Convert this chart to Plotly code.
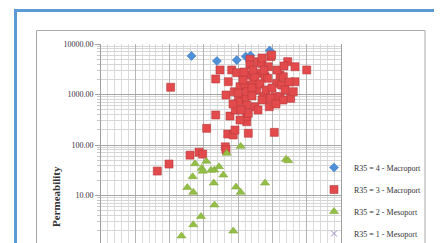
import plotly.graph_objects as go

# ---- data (porosity-like x, permeability y) ----
macro4_x = [13.2, 16.9, 19.8, 21.1, 21.8, 24.6]
macro4_y = [5800, 4600, 4800, 5650, 5900, 7400]

macro3_x = [10.16, 8.21, 9.92, 12.98, 14.29, 14.83, 15.41, 16.73, 16.73, 17.35,
            18.13, 18.23, 18.48, 18.23, 18.56, 18.81, 19.06, 19.29, 19.54, 19.79,
            19.59, 19.44, 20.27, 20.27, 21.48, 21.25, 21.25, 21.25, 21.0, 21.73,
            21.73, 21.63, 22.21, 22.46, 22.71, 22.79, 22.94, 23.44, 23.67, 23.92,
            24.4, 24.54, 24.31, 24.75, 24.89, 25.27, 25.37, 25.62, 26.1, 26.35,
            26.1, 26.59, 27.23, 27.66, 28.04, 28.29, 28.29, 30.0, 21.0, 22.46,
            24.65, 21.25, 20.02, 21.48, 20.71, 22.02, 23.19, 23.48, 19.98, 22.02,
            24.06, 24.94, 25.67, 26.83, 26.69, 20.42, 22.9, 20.85, 23.77, 22.17,
            19.25, 20.27, 27.42, 26.54, 25.52, 23.48]
macro3_y = [1390, 30.5, 42, 63, 72, 66, 214, 393, 2030, 3060,
            92, 80, 165, 977, 1790, 375, 3060, 158, 198, 2700,
            493, 1136, 778, 1427, 171, 289, 363, 620, 904, 4980,
            3840, 2430, 1940, 573, 1227, 2630, 4470, 4150, 904, 2250,
            3550, 573, 2094, 5610, 6055, 178, 904, 1667, 2430, 1542,
            904, 2250, 4470, 841, 1136, 3550, 1790, 3060, 1542, 2222,
            841, 1136, 720, 425, 1936, 1345, 1614, 778, 1072, 933,
            1227, 1345, 3057, 1227, 3664, 493, 493, 2790, 3057, 3057,
            649, 313, 1770, 778, 649, 5284]

meso2_x = [20.37, 18.33, 26.98, 27.31, 13.71, 15.36, 14.69, 14.83, 16.04, 16.52,
           17.21, 17.84, 13.37, 16.45, 12.59, 13.46, 19.69, 20.37, 23.92, 16.55,
           14.58, 13.46, 11.74, 19.29]
meso2_y = [94, 68.5, 52, 49, 42.6, 47.6, 34.6, 30.3, 31.6, 32,
           37.2, 25.5, 23.6, 17.7, 14.4, 11.6, 14.7, 11.6, 17.7, 6.5,
           3.84, 2.64, 1.58, 1.98]

meso1_x = [12.0, 15.5]
meso1_y = [0.6, 0.45]

series_names = ["R35 = 4 - Macroport", "R35 = 3 - Macroport",
                "R35 = 2 - Mesoport", "R35 = 1 - Mesoport"]
y_tickvals = [1, 10, 100, 1000, 10000]
y_ticktext = ["1.00", "10.00", "100.00", "1000.00", "10000.00"]

FONT = "Liberation Serif"

fig = go.Figure()
fig.add_trace(go.Scatter(x=macro4_x, y=macro4_y, mode="markers", name=series_names[0],
                         legendgroup="a",
                         marker=dict(symbol="diamond", size=7, color="#4F8FD8",
                                     line=dict(color="#3F78BC", width=0.5))))
fig.add_trace(go.Scatter(x=macro3_x, y=macro3_y, mode="markers", name=series_names[1],
                         legendgroup="b",
                         marker=dict(symbol="square", size=8, color="#E34A4C",
                                     line=dict(color="#B93A3C", width=0.6))))
fig.add_trace(go.Scatter(x=meso2_x, y=meso2_y, mode="markers", name=series_names[2],
                         legendgroup="c",
                         marker=dict(symbol="triangle-up", size=8, color="#93BF45",
                                     line=dict(color="#7AA334", width=0.5))))
fig.add_trace(go.Scatter(x=meso1_x, y=meso1_y, mode="markers", name=series_names[3],
                         legendgroup="d",
                         marker=dict(symbol="x-thin", size=6, color="#9D8AC7",
                                     line=dict(color="#9D8AC7", width=1))))

# page body has an 8px margin; figure is laid out in screen pixels minus that offset
OFF = 8
W, H = 442 - OFF, 243 - OFF
L, T, B = 101 - OFF, 44 - OFF, 0
R = W - (341 - OFF)
pw, ph = W - L - R, H - T - B


def px(xs):
    return (xs - OFF - L) / pw


def py(ys):
    return (H - B - (ys - OFF)) / ph


fig.update_layout(
    width=W, height=H,
    margin=dict(l=L, r=R, t=T, b=B, pad=0, autoexpand=False),
    paper_bgcolor="white", plot_bgcolor="white",
    font=dict(family=FONT, size=8, color="#333333"),
    showlegend=True,
    legend=dict(x=px(314), y=py(153), xanchor="left", yanchor="top",
                bgcolor="rgba(0,0,0,0)", tracegroupgap=3, itemwidth=30,
                font=dict(family=FONT, size=8, color="#333333")),
    xaxis=dict(range=[0, 35], dtick=5, showticklabels=False, ticks="",
               showgrid=True, gridcolor="#B4B4B4", gridwidth=1, zeroline=False,
               minor=dict(dtick=1, showgrid=True, gridcolor="#DADADA", gridwidth=1)),
    yaxis=dict(type="log", range=[0.06, 4], tickvals=y_tickvals, ticktext=y_ticktext,
               ticks="outside", ticklen=5, tickcolor="#A0A0A0",
               showline=True, linecolor="#A0A0A0", linewidth=1, mirror=True,
               showgrid=True, gridcolor="#A6A6A6", gridwidth=1, zeroline=False,
               tickfont=dict(family=FONT, size=8, color="#333333"),
               minor=dict(dtick="D1", showgrid=True, gridcolor="#D6D6D6", gridwidth=1,
                          ticks="outside", ticklen=3, tickcolor="#C8C8C8")),
    shapes=[
        dict(type="rect", xref="paper", yref="paper",
             x0=px(36.5), x1=px(425), y0=py(260), y1=py(30.5),
             line=dict(color="#A9A9A9", width=1), fillcolor="rgba(0,0,0,0)", layer="below"),
        dict(type="rect", xref="paper", yref="paper",
             x0=px(15.5), x1=px(470), y0=py(270), y1=py(10.5),
             line=dict(color="#5B9BD5", width=3), fillcolor="rgba(0,0,0,0)", layer="below"),
    ],
    annotations=[
        dict(text="<b>Permeability</b>", xref="paper", yref="paper",
             x=px(56), y=py(197), textangle=-90, showarrow=False,
             xanchor="center", yanchor="middle",
             font=dict(family=FONT, size=11, color="#333333")),
    ],
)

fig.write_html("out.html")
